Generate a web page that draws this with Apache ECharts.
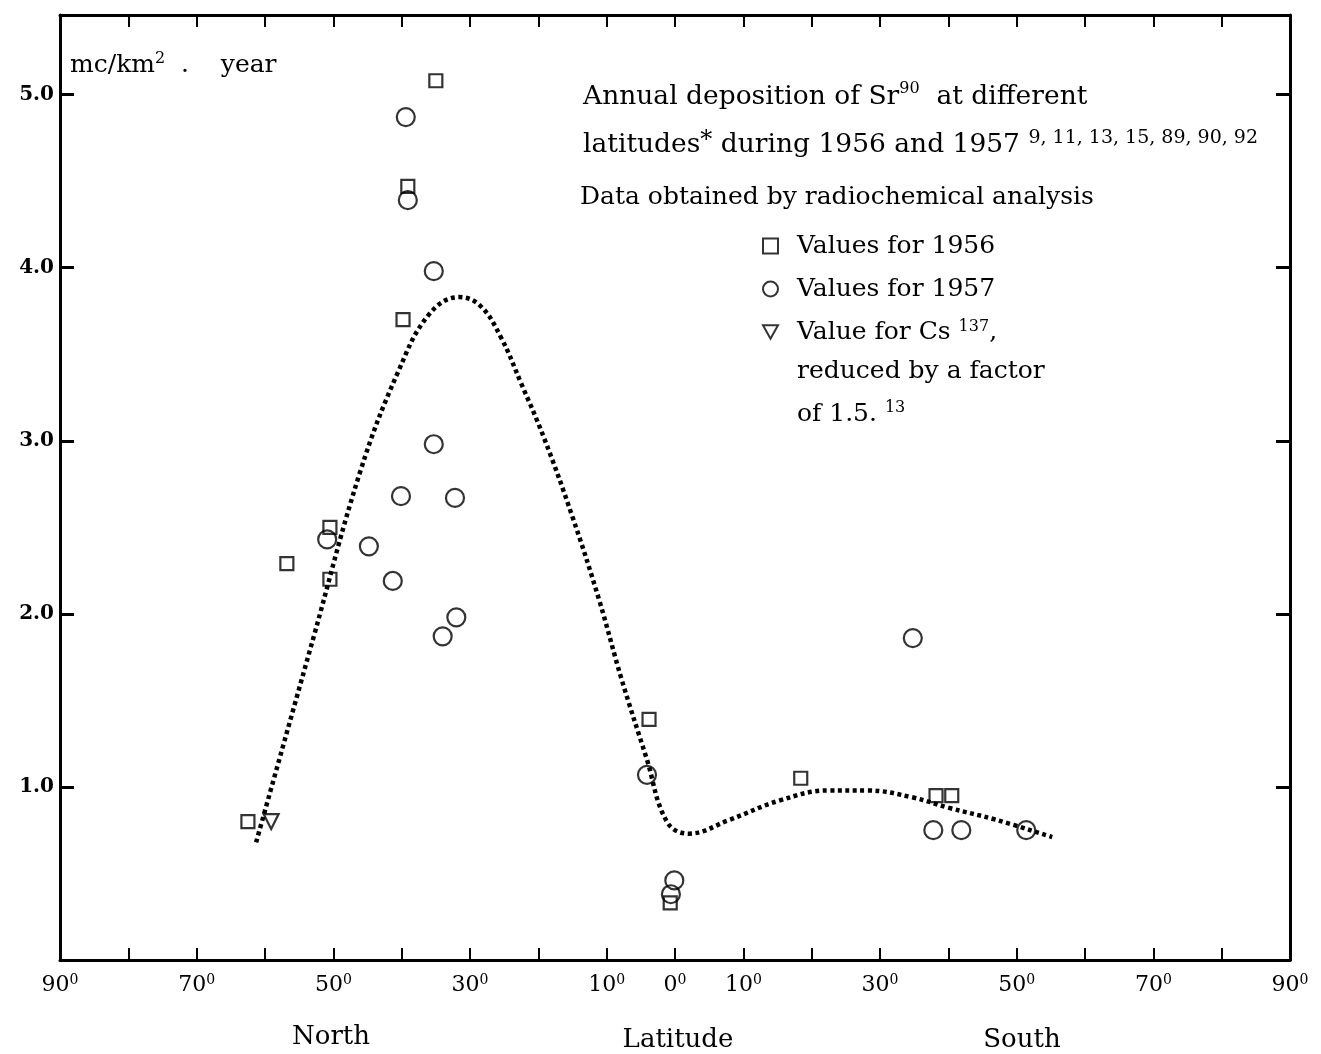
<!DOCTYPE html>
<html>
<head>
<meta charset="utf-8">
<title>Annual deposition of Sr90 at different latitudes</title>
<script src="https://cdn.jsdelivr.net/npm/echarts@6/dist/echarts.min.js"></script>
<style>
  html, body { margin: 0; padding: 0; background: #fff; }
  #chart { width: 1321px; height: 1054px; }
</style>
</head>
<body>
<div id="chart"></div>
<script>
// latitude in degrees: negative = North, positive = South
// values for 1956 (squares)
const lat1956 = [-62.5, -56.8, -50.5, -50.5, -39.8, -39.1, -35.0, -3.8, -0.7, 18.4, 38.2, 40.5];
const val1956 = [0.80, 2.29, 2.50, 2.20, 3.70, 4.47, 5.08, 1.39, 0.33, 1.05, 0.95, 0.95];
// values for 1957 (circles)
const lat1957 = [-50.9, -44.8, -41.3, -40.1, -39.4, -39.1, -35.3, -35.3, -34.0, -32.2, -32.0, -4.1, -0.1, -0.6, 34.8, 37.8, 41.9, 51.4];
const val1957 = [2.43, 2.39, 2.19, 2.68, 4.87, 4.39, 3.98, 2.98, 1.87, 2.67, 1.98, 1.07, 0.46, 0.38, 1.86, 0.75, 0.75, 0.75];
// Cs137 value reduced by a factor 1.5 (triangle)
const latCs = [-59.1];
const valCs = [0.80];
// dotted curve drawn through the data
const curveLat = [-61.3, -53.0, -46.0, -40.5, -36.0, -31.6, -28.5, -25.5, -22.5, -19.2, -15.0, -11.1, -7.8, -4.2, -1.2, 2.0, 8.0, 15.2, 22.5, 28.0, 34.7, 40.0, 47.0, 55.2];
const curveVal = [0.68, 1.85, 2.83, 3.40, 3.73, 3.83, 3.78, 3.60, 3.33, 3.02, 2.56, 2.08, 1.62, 1.17, 0.80, 0.73, 0.81, 0.92, 0.98, 0.98, 0.94, 0.88, 0.81, 0.71];
// axis labels
const xLabelled = [90, 70, 50, 30, 10, 0];
const yLabelled = [1, 2, 3, 4, 5];

const serif = '"DejaVu Serif", "Liberation Serif", serif';
const pair = (xs, ys) => xs.map((x, i) => [x, ys[i]]);

const hollow = { color: 'rgba(255,255,255,0)', borderColor: '#000', borderWidth: 2.2 };
const frameLine = { onZero: false, lineStyle: { color: '#000', width: 3 } };

const chart = echarts.init(document.getElementById('chart'));
chart.setOption({
  animation: false,
  backgroundColor: '#fff',
  grid: { left: 60, right: 31, top: 15, bottom: 94, outerBoundsMode: 'none' },
  xAxis: [
    {
      type: 'value', min: -90, max: 90, interval: 10,
      axisLine: frameLine,
      axisTick: { inside: true, length: 12, lineStyle: { color: '#000', width: 2 } },
      splitLine: { show: false },
      axisLabel: {
        margin: 13,
        showMinLabel: true, showMaxLabel: true,
        formatter: v => xLabelled.includes(Math.abs(v)) ? '{n|' + Math.abs(v) + '}{s|0}' : '',
        rich: {
          n: { fontFamily: serif, fontSize: 22, color: '#000', lineHeight: 24 },
          s: { fontFamily: serif, fontSize: 14, color: '#000', verticalAlign: 'top', lineHeight: 13 }
        }
      }
    },
    {
      type: 'value', min: -90, max: 90, interval: 10, position: 'top',
      axisLine: frameLine,
      axisTick: { inside: true, length: 12, lineStyle: { color: '#000', width: 2 } },
      axisLabel: { show: false },
      splitLine: { show: false }
    }
  ],
  yAxis: [
    {
      type: 'value', min: 0, max: 5.46, interval: 1,
      axisLine: frameLine,
      axisTick: { inside: true, length: 14, lineStyle: { color: '#000', width: 3 } },
      splitLine: { show: false },
      axisLabel: {
        margin: 6, color: '#000', fontFamily: serif, fontWeight: 'bold', fontSize: 20,
        formatter: v => yLabelled.includes(v) ? v.toFixed(1) : ''
      }
    },
    {
      type: 'value', min: 0, max: 5.46, interval: 1, position: 'right',
      axisLine: frameLine,
      axisTick: { inside: true, length: 14, lineStyle: { color: '#000', width: 3 } },
      axisLabel: { show: false },
      splitLine: { show: false }
    }
  ],
  legend: {
    orient: 'vertical', left: 757, top: 228,
    itemWidth: 15, itemHeight: 15, itemGap: 17,
    data: [
      { name: 'Values for 1956', icon: 'rect' },
      { name: 'Values for 1957', icon: 'circle' },
      { name: 'Value for Cs137', icon: 'path://M0,0L10,0L5,9Z' }
    ],
    itemStyle: { color: 'rgba(255,255,255,0)', borderColor: '#000', borderWidth: 2 },
    formatter: name => name === 'Value for Cs137' ? '{t|Value for Cs }{s|137}{t|,}' : '{t|' + name + '}',
    textStyle: {
      color: '#000', fontFamily: serif, fontSize: 25, lineHeight: 26, padding: [0, 0, 0, 14],
      rich: {
        t: { fontFamily: serif, fontSize: 25, color: '#000', lineHeight: 26 },
        s: { fontFamily: serif, fontSize: 16, color: '#000', verticalAlign: 'top', lineHeight: 15 }
      }
    }
  },
  graphic: [
    {
      type: 'text', x: 70, y: 65,
      style: {
        text: '{t|mc/km}{s|2}{t|  .    year}', verticalAlign: 'middle',
        rich: {
          t: { fontFamily: serif, fontSize: 25, fill: '#000', lineHeight: 28 },
          s: { fontFamily: serif, fontSize: 16, fill: '#000', verticalAlign: 'top', lineHeight: 15 }
        }
      }
    },
    {
      type: 'text', x: 583, y: 97,
      style: {
        text: '{t|Annual deposition of Sr}{s|90}{t|  at different}', verticalAlign: 'middle',
        rich: {
          t: { fontFamily: serif, fontSize: 26.5, fill: '#000', lineHeight: 32 },
          s: { fontFamily: serif, fontSize: 16, fill: '#000', verticalAlign: 'top', lineHeight: 16 }
        }
      }
    },
    {
      type: 'text', x: 583, y: 145,
      style: {
        text: '{t|latitudes}{s|*}{t| during 1956 and 1957 }{r|9, 11, 13, 15, 89, 90, 92}', verticalAlign: 'middle',
        rich: {
          t: { fontFamily: serif, fontSize: 26.5, fill: '#000', lineHeight: 32 },
          s: { fontFamily: serif, fontSize: 24, fill: '#000', verticalAlign: 'top', lineHeight: 18 },
          r: { fontFamily: serif, fontSize: 19, fill: '#000', verticalAlign: 'top', lineHeight: 22 }
        }
      }
    },
    {
      type: 'text', x: 580, y: 197,
      style: { text: 'Data obtained by radiochemical analysis', verticalAlign: 'middle', font: '25px ' + serif, fill: '#000' }
    },
    {
      type: 'text', x: 797, y: 371,
      style: { text: 'reduced by a factor', verticalAlign: 'middle', font: '25px ' + serif, fill: '#000' }
    },
    {
      type: 'text', x: 797, y: 414,
      style: {
        text: '{t|of 1.5. }{s|13}', verticalAlign: 'middle',
        rich: {
          t: { fontFamily: serif, fontSize: 25, fill: '#000', lineHeight: 28 },
          s: { fontFamily: serif, fontSize: 16, fill: '#000', verticalAlign: 'top', lineHeight: 15 }
        }
      }
    },
    {
      type: 'text', x: 331, y: 1037,
      style: { text: 'North', align: 'center', verticalAlign: 'middle', font: '26px ' + serif, fill: '#000' }
    },
    {
      type: 'text', x: 678, y: 1040,
      style: { text: 'Latitude', align: 'center', verticalAlign: 'middle', font: '26px ' + serif, fill: '#000' }
    },
    {
      type: 'text', x: 1022, y: 1040,
      style: { text: 'South', align: 'center', verticalAlign: 'middle', font: '26px ' + serif, fill: '#000' }
    }
  ],
  series: [
    {
      name: 'curve', type: 'line', data: pair(curveLat, curveVal),
      smooth: 0.4, symbol: 'none', z: 1,
      lineStyle: { color: '#000', width: 4.5, type: [4, 3.5] }
    },
    {
      name: 'Values for 1956', type: 'scatter', data: pair(lat1956, val1956),
      symbol: 'rect', symbolSize: 13, itemStyle: hollow, z: 3
    },
    {
      name: 'Values for 1957', type: 'scatter', data: pair(lat1957, val1957),
      symbol: 'circle', symbolSize: 18, itemStyle: hollow, z: 3
    },
    {
      name: 'Value for Cs137', type: 'scatter', data: pair(latCs, valCs),
      symbol: 'triangle', symbolRotate: 180, symbolSize: 15, itemStyle: hollow, z: 3
    }
  ]
});
</script>
</body>
</html>
